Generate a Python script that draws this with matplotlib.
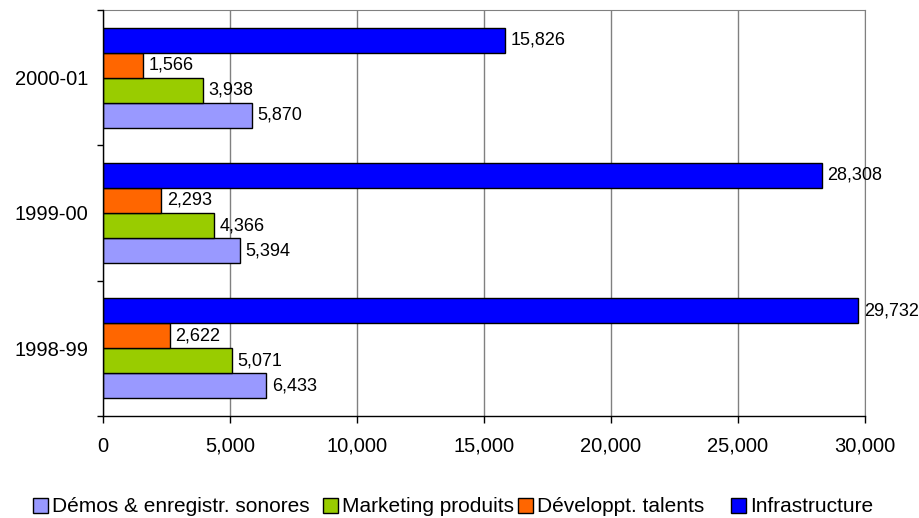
import matplotlib
matplotlib.use("Agg")
import matplotlib.pyplot as plt
from matplotlib.patches import Rectangle
import numpy as np

plt.rcParams['font.family'] = ['Liberation Sans', 'DejaVu Sans']

categories = ["1998-99", "1999-00", "2000-01"]
series_names = ["Démos & enregistr. sonores", "Marketing produits",
                "Développt. talents", "Infrastructure"]
demos = [6433, 5394, 5870]
marketing = [5071, 4366, 3938]
talents = [2622, 2293, 1566]
infrastructure = [29732, 28308, 15826]
colors = ["#9999FF", "#99CC00", "#FF6600", "#0000FF"]
x_ticks = [0, 5000, 10000, 15000, 20000, 25000, 30000]

series = [demos, marketing, talents, infrastructure]

W, H = 920, 518
fig = plt.figure(figsize=(W / 100, H / 100), dpi=100)
ax = fig.add_axes([103 / W, 1 - 416 / H, 762 / W, 406 / H])

y = np.arange(len(categories))
h = 0.185
offsets = [-1.5 * h, -0.5 * h, 0.5 * h, 1.5 * h]

for vals, col, off in zip(series, colors, offsets):
    ax.barh(y + off, vals, height=h, color=col, edgecolor="black",
            linewidth=1.0, zorder=3)
    for yi, v in zip(y, vals):
        ax.annotate(f"{v:,}", xy=(v, yi + off), xytext=(4, 0),
                    textcoords="offset points", va="center", ha="left",
                    fontsize=13, color="black", zorder=4, annotation_clip=False)

ax.set_xlim(0, 30000)
ax.set_ylim(-0.5, 2.5)
ax.set_xticks(x_ticks)
ax.set_xticklabels([f"{t:,}" for t in x_ticks], fontsize=14.5)
ax.set_yticks(y)
ax.set_yticklabels(categories, fontsize=14.5)
ax.set_yticks([-0.5, 0.5, 1.5, 2.5], minor=True)
ax.tick_params(axis="y", which="major", length=0, pad=10.5)
ax.tick_params(axis="y", which="minor", length=4.5, width=1, color="black")
ax.tick_params(axis="x", length=5, width=1, color="black", pad=10)

ax.grid(axis="x", color="#808080", linewidth=1.0, zorder=0)
ax.set_axisbelow(True)
for side in ["left", "bottom"]:
    ax.spines[side].set_color("black")
    ax.spines[side].set_linewidth(1.0)
    ax.spines[side].set_zorder(5)
ax.spines["top"].set_color("#808080")
ax.spines["right"].set_color("#808080")

# Legend row along the bottom: swatch then label for each series
legend_x = [33, 323, 518, 731]
legend_yc = 505
sw = 15
for x0, col, name in zip(legend_x, colors, series_names):
    fig.add_artist(Rectangle((x0 / W, 1 - (legend_yc + sw / 2) / H), sw / W, sw / H,
                             transform=fig.transFigure, facecolor=col,
                             edgecolor="black", linewidth=1.0))
    fig.text((x0 + sw + 4) / W, 1 - legend_yc / H, name, fontsize=15,
             ha="left", va="center_baseline")

fig.savefig("out.png", dpi=100, facecolor="white")
